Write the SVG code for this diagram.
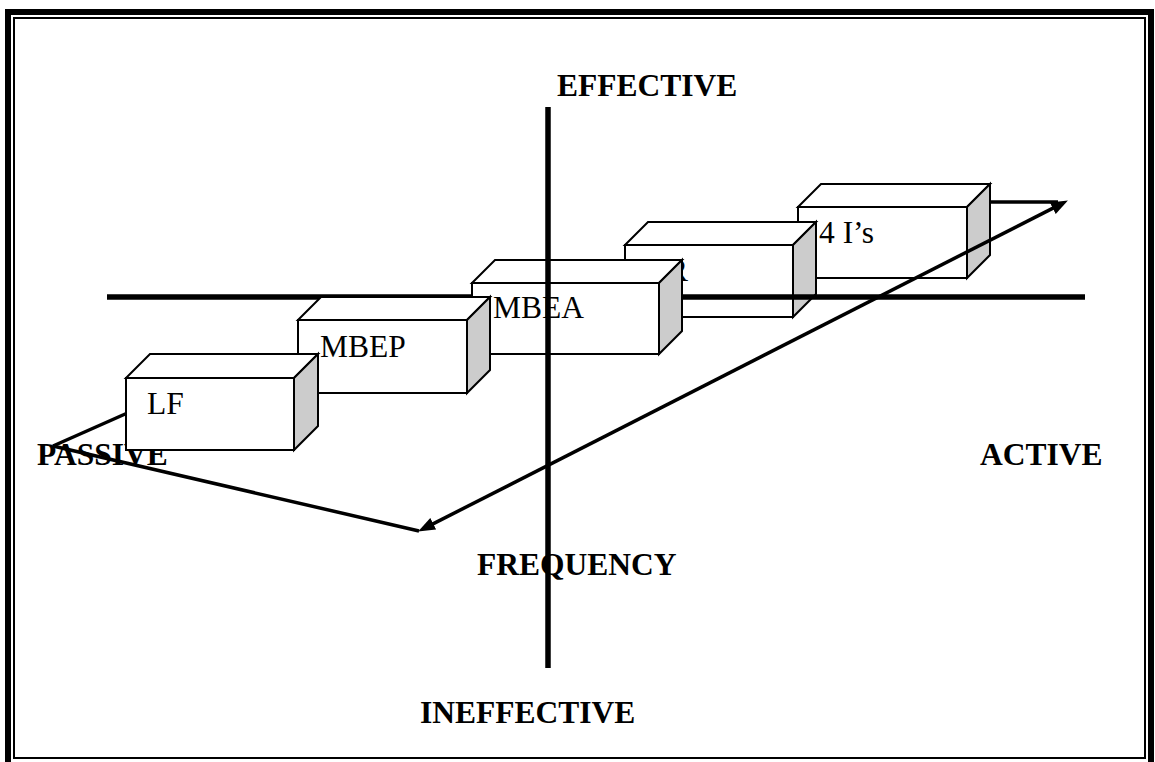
<svg xmlns="http://www.w3.org/2000/svg" width="1155" height="762" viewBox="0 0 1155 762">
  <style>
    .frame { fill: none; stroke: #000; }
    .axislbl { font-family: "Liberation Serif", "Times New Roman", serif; font-weight: bold; font-size: 31.5px; fill: #000; }
    .boxlbl { font-family: "Liberation Serif", "Times New Roman", serif; font-size: 31.5px; fill: #000; }
    .front, .top { fill: #fff; stroke: #000; stroke-width: 2; stroke-linejoin: miter; }
    .side { fill: #cccccc; stroke: #000; stroke-width: 2; }
    .axis { stroke: #000; stroke-width: 5.5; fill: none; }
    .conn { stroke: #000; stroke-width: 3.5; fill: none; }
  </style>
  <defs>
    <marker id="arrow" viewBox="0 0 17 13" markerWidth="17" markerHeight="13" refX="8" refY="6.5" orient="auto-start-reverse" markerUnits="userSpaceOnUse">
      <path d="M0,0 L17,6.5 L0,13 z" fill="#000"/>
    </marker>
  </defs>
  <rect width="1155" height="762" fill="#fff"/>
  <g id="frame">
    <path class="frame" stroke-width="6" d="M8,762 V12 H1151 V762"/>
    <rect class="frame" stroke-width="2" x="14" y="18" width="1131" height="740"/>
  </g>
  <g id="labels">
    <text class="axislbl" x="557" y="96">EFFECTIVE</text>
    <text class="axislbl" x="420" y="723">INEFFECTIVE</text>
    <text class="axislbl" x="37" y="465">PASSIVE</text>
    <text class="axislbl" x="980" y="465">ACTIVE</text>
    <text class="axislbl" x="477" y="575">FREQUENCY</text>
  </g>
  <g id="node-4is">
    <rect class="front" x="798" y="207" width="169" height="71"/>
    <polygon class="top" points="798,207 821,184 990,184 967,207"/>
    <polygon class="side" points="967,207 990,184 990,255 967,278"/>
    <text class="boxlbl" x="819" y="243">4 I’s</text>
  </g>
  <g id="node-cr">
    <rect class="front" x="625" y="245" width="168" height="72"/>
    <polygon class="top" points="625,245 648,222 816,222 793,245"/>
    <polygon class="side" points="793,245 816,222 816,294 793,317"/>
    <text class="boxlbl" x="646" y="281">CR</text>
  </g>
  <g id="connectors-back">
    <line class="axis" x1="107" y1="297" x2="1085" y2="297"/>
    <line class="conn" x1="53" y1="446" x2="150" y2="403"/>
  </g>
  <g id="node-mbea">
    <rect class="front" x="472" y="283" width="187" height="71"/>
    <polygon class="top" points="472,283 495,260 682,260 659,283"/>
    <polygon class="side" points="659,283 682,260 682,331 659,354"/>
    <text class="boxlbl" x="493" y="318">MBEA</text>
  </g>
  <g id="node-mbep">
    <rect class="front" x="298" y="320" width="169" height="73"/>
    <polygon class="top" points="298,320 321,297 490,297 467,320"/>
    <polygon class="side" points="467,320 490,297 490,370 467,393"/>
    <text class="boxlbl" x="320" y="357">MBEP</text>
  </g>
  <g id="node-lf">
    <rect class="front" x="126" y="378" width="168" height="72"/>
    <polygon class="top" points="126,378 150,354 318,354 294,378"/>
    <polygon class="side" points="294,378 318,354 318,426 294,450"/>
    <text class="boxlbl" x="147" y="414">LF</text>
  </g>
  <g id="connectors">
    <line class="axis" x1="548" y1="107" x2="548" y2="668"/>
    <line class="conn" x1="53" y1="446" x2="419" y2="531"/>
    <line class="conn" x1="990" y1="202" x2="1058" y2="202"/>
    <line class="conn" x1="426.1" y1="527.4" x2="1059.9" y2="204.6" marker-start="url(#arrow)" marker-end="url(#arrow)"/>
  </g>
</svg>
